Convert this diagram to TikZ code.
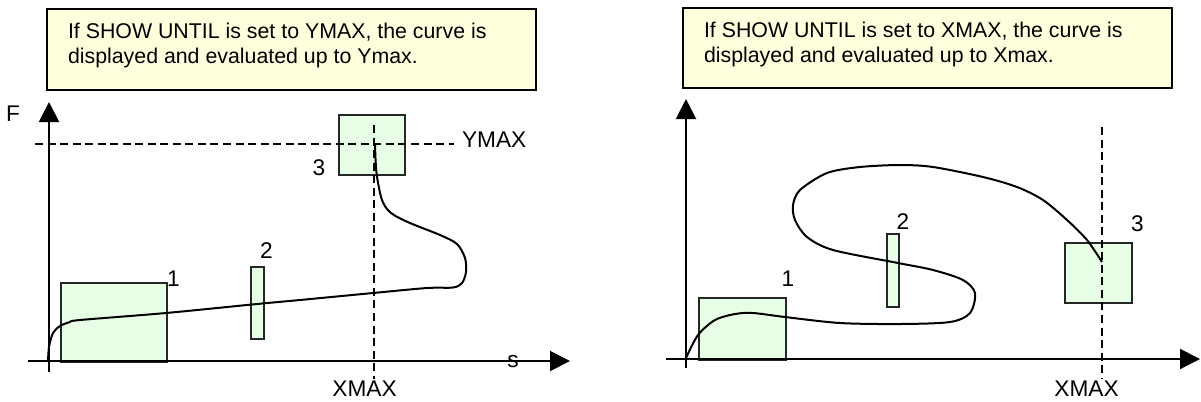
\documentclass[tikz,border=0pt]{standalone}
\usepackage{fontspec}
\setmainfont{Liberation Sans}
\usetikzlibrary{arrows.meta}
\definecolor{notefill}{RGB}{255,255,221}
\definecolor{boxfill}{RGB}{230,255,230}
\begin{document}
\begin{tikzpicture}[x=0.75pt,y=-0.75pt,line width=1.5pt,
  note/.style={draw=black,fill=notefill,line width=1.5pt,anchor=north west,inner sep=0pt},
  notetext/.style={anchor=north west,inner sep=0pt,align=left,font=\fontsize{16}{18.75}\selectfont},
  zone/.style={draw=black!85,fill=boxfill,line width=1.5pt,anchor=north west,inner sep=0pt},
  lbl/.style={inner sep=0pt,font=\fontsize{17}{20}\selectfont},
  axis/.style={line width=1.5pt,-{Triangle[length=15pt,width=15pt]}},
  guide/.style={line width=1.5pt,dash pattern=on 6pt off 3.4pt},
  curve/.style={line width=1.5pt}]
\useasboundingbox (0,0) rectangle (1201,401);

% ---------- left panel ----------
\node[note,minimum width=366.75pt,minimum height=60.75pt] (Lnote) at (46,8) {};
\node[notetext] (Lnotetext) at (67,22.5) {If SHOW UNTIL is set to YMAX, the curve is\\displayed and evaluated up to Ymax.};

\node[zone,minimum width=79.5pt,minimum height=59.25pt] (Lb1) at (60,282) {};
\node[zone,minimum width=9.75pt,minimum height=54pt] (Lb2) at (250,266) {};
\node[zone,minimum width=49.5pt,minimum height=45pt] (Lb3) at (338,114) {};

\node[lbl] (L1) at (173.5,278.5) {1};
\node[lbl] (L2) at (266.5,251) {2};
\node[lbl] (L3) at (319,167.5) {3};
\node[lbl] (LF) at (13,114) {F};
\node[lbl,anchor=west] (LY) at (461,140) {YMAX};
\node[lbl] (LX) at (364.5,388.5) {XMAX};

\coordinate (Lh0) at (35,144);
\coordinate (Lh1) at (454,144);
\coordinate (Lv0) at (374,125);
\coordinate (Lv1) at (374,379);
\draw[guide] (Lh0) -- (Lh1);
\draw[guide] (Lv0) -- (Lv1);

\draw[curve] plot[smooth,tension=0.5] coordinates {(48,362) (49,347) (53,333) (60,326) (70,322) (80,320) (166,313) (257,304) (300,300) (373,293) (427,288) (453,287.5) (462,283) (466,272) (465,258) (457,244) (440,235) (410,223) (391,213) (382,200) (376.5,173) (375,145)};

\coordinate (Lya) at (49,372);
\coordinate (Lyb) at (49,102);
\coordinate (Lxa) at (28,361);
\coordinate (Lxb) at (570,361);
\draw[axis] (Lya) -- (Lyb);
\draw[axis] (Lxa) -- (Lxb);
\node[lbl] (Ls) at (513,362) {s};

% ---------- right panel ----------
\node[note,minimum width=366.75pt,minimum height=60pt] (Rnote) at (682,7) {};
\node[notetext] (Rnotetext) at (703,21.5) {If SHOW UNTIL is set to XMAX, the curve is\\displayed and evaluated up to Xmax.};

\node[zone,minimum width=65.25pt,minimum height=46.5pt] (Rb1) at (698,297) {};
\node[zone,minimum width=9pt,minimum height=54.75pt] (Rb2) at (886,233) {};
\node[zone,minimum width=50.25pt,minimum height=45pt] (Rb3) at (1064,242) {};

\node[lbl] (R1) at (788,279) {1};
\node[lbl] (R2) at (903,222) {2};
\node[lbl] (R3) at (1137.5,223.5) {3};
\node[lbl] (RX) at (1086.5,388.5) {XMAX};

\coordinate (Rv0) at (1102,127);
\coordinate (Rv1) at (1102,379);
\draw[guide] (Rv0) -- (Rv1);

\draw[curve] plot[smooth,tension=0.5] coordinates {(686,358) (698,335) (715,320) (735,314) (753,313) (785,317) (840,323) (900,324) (950,322) (970,313) (975,293) (963,280) (933,270) (898,263) (833,250) (807,237) (795,220) (793,205) (800,190) (827,173) (860,167) (900,165) (933,167) (983,177) (1017,187) (1043,200) (1067,220) (1087,240) (1102,262)};

\coordinate (Rya) at (686,368);
\coordinate (Ryb) at (686,99);
\coordinate (Rxa) at (666,359);
\coordinate (Rxb) at (1200,359);
\draw[axis] (Rya) -- (Ryb);
\draw[axis] (Rxa) -- (Rxb);
\end{tikzpicture}
\end{document}
